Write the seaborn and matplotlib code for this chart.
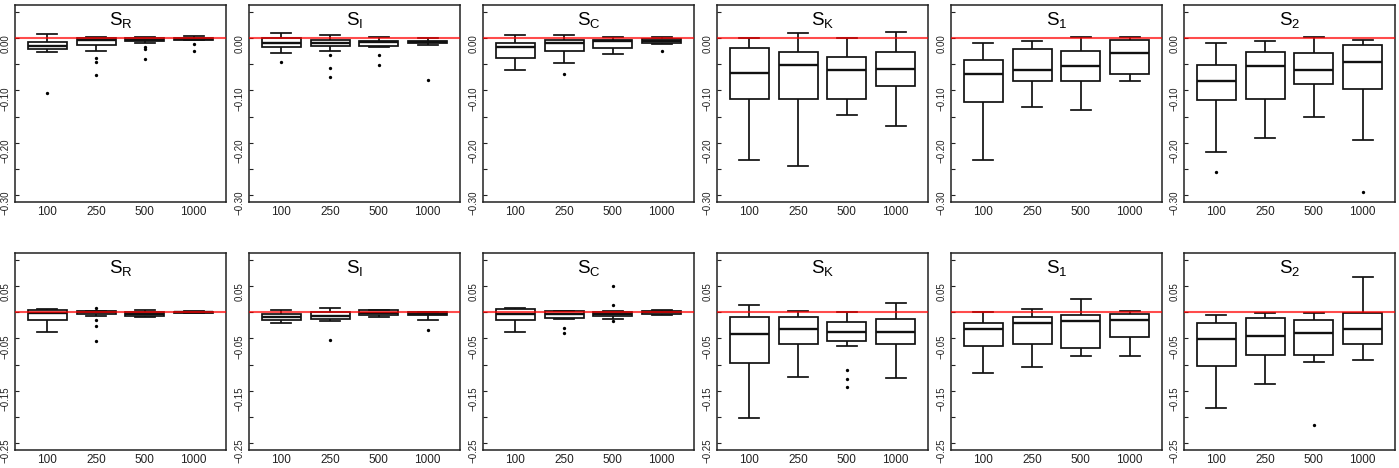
import numpy as np
import pandas as pd
import matplotlib
matplotlib.use("Agg")
import matplotlib.pyplot as plt
import seaborn as sns

sizes = ["100", "250", "500", "1000"]
subscripts = ["R", "I", "C", "K", "1", "2"]

# ---------------- top row (order: S_R, S_I, S_C, S_K, S_1, S_2) ----------------
top_hi = [
    [0.008, 0.002, 0.003, 0.004],
    [0.011, 0.006, 0.003, 0.000],
    [0.007, 0.006, 0.0025, 0.002],
    [0.000, 0.011, 0.000, 0.013],
    [-0.009, -0.006, 0.002, 0.002],
    [-0.009, -0.006, 0.002, -0.0025],
]
top_q3 = [
    [-0.0076, 0.000, 0.000, 0.000],
    [0.000, -0.0025, -0.0045, -0.0045],
    [-0.008, -0.0025, -0.0025, -0.0013],
    [-0.0185, -0.0267, -0.035, -0.027],
    [-0.041, -0.021, -0.0236, -0.003],
    [-0.052, -0.0255, -0.028, -0.0127],
]
top_med = [
    [-0.015, -0.003, -0.003, -0.001],
    [-0.0095, -0.0095, -0.0076, -0.007],
    [-0.017, -0.009, -0.0045, -0.005],
    [-0.067, -0.052, -0.060, -0.0586],
    [-0.068, -0.0605, -0.054, -0.028],
    [-0.0815, -0.054, -0.061, -0.045],
]
top_q1 = [
    [-0.020, -0.012, -0.006, -0.003],
    [-0.016, -0.015, -0.015, -0.0095],
    [-0.0376, -0.0236, -0.018, -0.009],
    [-0.117, -0.117, -0.117, -0.092],
    [-0.122, -0.082, -0.081, -0.068],
    [-0.119, -0.117, -0.087, -0.097],
]
top_lo = [
    [-0.027, -0.025, -0.009, -0.004],
    [-0.028, -0.025, -0.017, -0.013],
    [-0.060, -0.047, -0.030, -0.010],
    [-0.2325, -0.244, -0.147, -0.169],
    [-0.234, -0.132, -0.1376, -0.081],
    [-0.218, -0.192, -0.1516, -0.1955],
]
top_out = [
    [[-0.104], [-0.038, -0.045, -0.070], [-0.017, -0.021, -0.039], [-0.011, -0.025]],
    [[-0.045], [-0.032, -0.057, -0.074], [-0.031, -0.051], [-0.079]],
    [[], [-0.0675], [], [-0.024]],
    [[], [], [], []],
    [[], [], [], []],
    [[-0.257], [], [], [-0.294]],
]

# ---------------- bottom row ----------------
bot_hi = [
    [0.0064, 0.003, 0.004, 0.002],
    [0.005, 0.0077, 0.005, 0.001],
    [0.008, 0.003, 0.002, 0.005],
    [0.014, 0.003, 0.000, 0.018],
    [0.000, 0.0064, 0.0256, 0.0026],
    [-0.0045, -0.0013, -0.0013, 0.067],
]
bot_q3 = [
    [0.004, 0.003, 0.000, 0.001],
    [-0.0026, 0.000, 0.004, 0.000],
    [0.0064, 0.003, 0.000, 0.0026],
    [-0.009, -0.009, -0.018, -0.0128],
    [-0.0205, -0.0096, -0.0058, -0.0026],
    [-0.0205, -0.0103, -0.0154, -0.0013],
]
bot_med = [
    [-0.001, 0.000, -0.003, 0.000],
    [-0.009, -0.0064, -0.001, -0.0026],
    [-0.0026, -0.004, -0.003, 0.000],
    [-0.041, -0.031, -0.038, -0.0385],
    [-0.032, -0.0205, -0.0173, -0.014],
    [-0.0506, -0.046, -0.040, -0.032],
]
bot_q1 = [
    [-0.0154, -0.0026, -0.0064, -0.001],
    [-0.0154, -0.012, -0.005, -0.0045],
    [-0.014, -0.0115, -0.0077, -0.0026],
    [-0.0974, -0.060, -0.055, -0.061],
    [-0.064, -0.060, -0.0686, -0.047],
    [-0.1026, -0.081, -0.082, -0.061],
]
bot_lo = [
    [-0.038, -0.006, -0.009, -0.002],
    [-0.0205, -0.016, -0.009, -0.014],
    [-0.037, -0.013, -0.012, -0.005],
    [-0.202, -0.123, -0.0635, -0.125],
    [-0.1167, -0.104, -0.0827, -0.0827],
    [-0.183, -0.138, -0.095, -0.092],
]
bot_out = [
    [[], [0.008, -0.014, -0.027, -0.0545], [], []],
    [[], [-0.0526], [], [-0.033]],
    [[], [-0.030, -0.040], [0.050, 0.014, -0.017], []],
    [[], [], [-0.110, -0.1276, -0.1436], []],
    [[], [], [], []],
    [[], [], [-0.216], []],
]

top_ticks = [0.05, 0.00, -0.05, -0.10, -0.15, -0.20, -0.25, -0.30]
top_labels = ["", "0.00", "", "\u22120.10", "", "\u22120.20", "", "\u22120.30"]
bot_ticks = [0.10, 0.05, 0.00, -0.05, -0.10, -0.15, -0.20, -0.25]
bot_labels = ["", "0.05", "", "\u22120.05", "", "\u22120.15", "", "\u22120.25"]

plt.rcParams["font.family"] = ["Liberation Sans", "DejaVu Sans"]

W, H = 1399, 468
fig = plt.figure(figsize=(W / 100, H / 100), dpi=100)
lefts = [15, 249, 483, 717, 951, 1184]
pw, ph = 211, 197

rows = [
    dict(top=5, hi=top_hi, q3=top_q3, med=top_med, q1=top_q1, lo=top_lo, out=top_out,
         ylim=(-0.314, 0.064), ticks=top_ticks, labels=top_labels),
    dict(top=253, hi=bot_hi, q3=bot_q3, med=bot_med, q1=bot_q1, lo=bot_lo, out=bot_out,
         ylim=(-0.264, 0.114), ticks=bot_ticks, labels=bot_labels),
]

for r in rows:
    for p in range(6):
        ax = fig.add_axes([lefts[p] / W, 1 - (r["top"] + ph) / H, pw / W, ph / H])
        recs = []
        for j, s in enumerate(sizes):
            for key in ("lo", "q1", "med", "q3", "hi"):
                recs.append((s, r[key][p][j]))
        df = pd.DataFrame(recs, columns=["n", "v"])
        sns.boxplot(data=df, x="n", y="v", order=sizes, whis=(0, 100), showfliers=False,
                    color="white", linecolor="#111111", linewidth=1.25, width=0.8,
                    saturation=1, ax=ax,
                    medianprops=dict(linewidth=1.7))
        outs = [(s, v) for j, s in enumerate(sizes) for v in r["out"][p][j]]
        if outs:
            dfo = pd.DataFrame(outs, columns=["n", "v"])
            sns.stripplot(data=dfo, x="n", y="v", order=sizes, jitter=False,
                          color="black", size=2.4, linewidth=0, ax=ax)
        ax.axhline(0, color="#ff0000", alpha=0.7, lw=1.5, zorder=6)
        ax.set_xlim(-0.66, 3.66)
        ax.set_ylim(*r["ylim"])
        ax.set_yticks(r["ticks"])
        ax.set_yticklabels(r["labels"])
        ax.set_xlabel("")
        ax.set_ylabel("")
        ax.tick_params(axis="y", direction="in", length=3, width=0.8, pad=3.5,
                       labelsize=7, labelrotation=90, colors="#222222")
        ax.tick_params(axis="x", length=0, pad=3, labelsize=8.5, colors="#222222")
        for sp in ax.spines.values():
            sp.set_visible(True)
            sp.set_color("#222222")
            sp.set_linewidth(1.1)
        ax.text(0.5, 0.925, r"$\mathregular{S_{%s}}$" % subscripts[p],
                transform=ax.transAxes, ha="center", va="center", fontsize=13.5)

fig.savefig("out.png", dpi=100)
